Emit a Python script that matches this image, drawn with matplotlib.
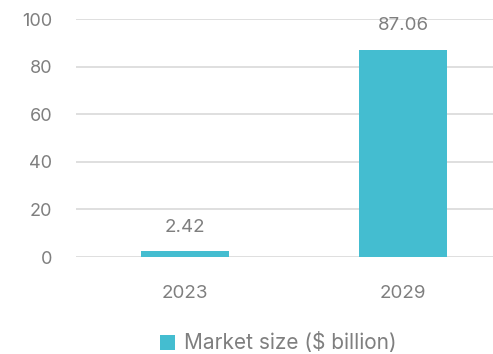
import matplotlib.pyplot as plt
from matplotlib.patches import Patch

years = ["2023", "2029"]
market_size = [2.42, 87.06]
y_ticks = [0, 20, 40, 60, 80, 100]

bar_color = "#44BDD0"
text_color = "#7F7F7F"
grid_color = "#D9D9D9"

plt.rcParams["font.family"] = ["Inter", "DejaVu Sans"]

fig = plt.figure(figsize=(4.93, 3.54), dpi=100)
# axes runs a little past the right edge so the second slot is cut off
ax = fig.add_axes([76 / 493, 1 - 257 / 354, 436 / 493, 238 / 354])

x = range(len(years))
bars = ax.bar(x, market_size, width=0.4, color=bar_color, zorder=3)

for xi, val in zip(x, market_size):
    ax.text(xi, val + 6.5, f"{val:.2f}", ha="center", va="bottom",
            fontsize=13.5, color=text_color)

ax.set_xlim(-0.5, 1.5)
ax.set_ylim(0, 100)
ax.set_yticks(y_ticks)
ax.set_xticks(list(x))
ax.set_xticklabels(years)
ax.tick_params(axis="y", length=0, pad=17, labelsize=13, labelcolor=text_color)
ax.tick_params(axis="x", length=0, pad=20, labelsize=13.5, labelcolor=text_color)
ax.grid(axis="y", color=grid_color, linewidth=1.2, zorder=0)
for s in ax.spines.values():
    s.set_visible(False)

handle = Patch(facecolor=bar_color, edgecolor="none")
fig.legend([handle], ["Market size ($ billion)"], loc="center",
           bbox_to_anchor=(278 / 493, 1 - 343 / 354), frameon=False,
           fontsize=15, labelcolor=text_color, handlelength=0.75,
           handleheight=0.75, handletextpad=0.4)

fig.savefig("out.png", dpi=100)
